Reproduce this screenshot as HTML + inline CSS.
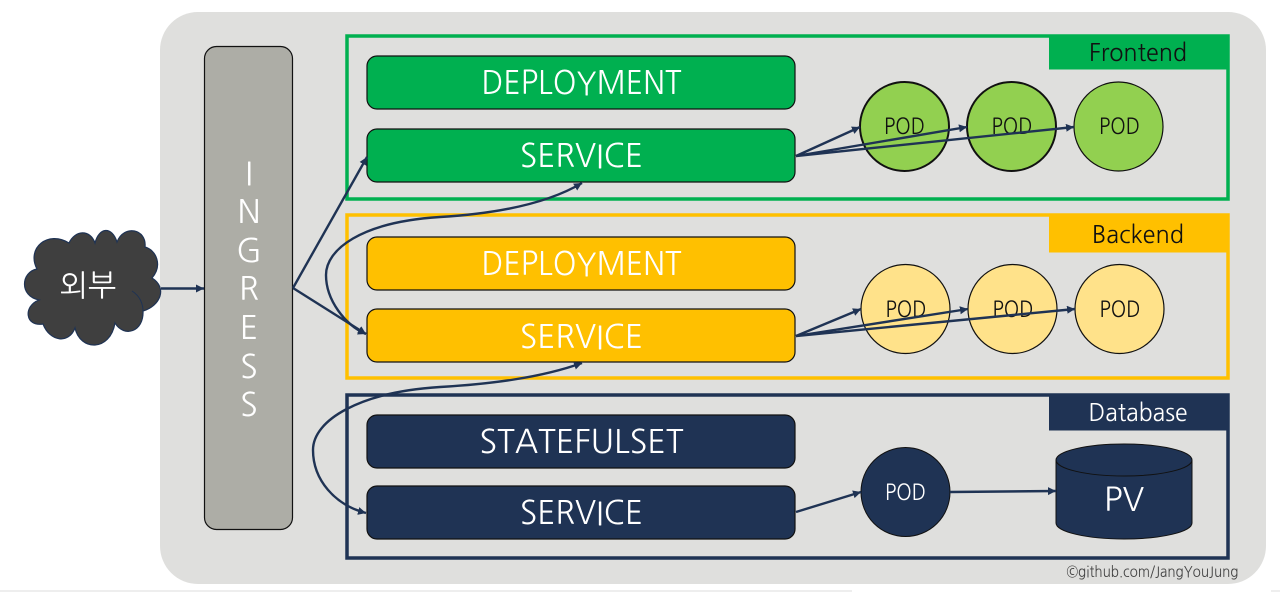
<!DOCTYPE html>
<html><head><meta charset="utf-8"><style>
html,body{margin:0;padding:0;background:#fff;width:1280px;height:592px;overflow:hidden}
svg{display:block}
text{font-family:"NanumGothic","Liberation Sans","Noto Sans CJK KR",sans-serif;text-anchor:middle}
.w{fill:#fff}.k{fill:#111}
.bar{font-size:32px}.tag{font-size:24px}.pod{font-size:22px}
.ln{fill:none;stroke:#1f3354;stroke-width:2.4}
</style></head><body>
<svg width="1280" height="592" viewBox="0 0 1280 592" xmlns="http://www.w3.org/2000/svg">
<defs><marker id="a" markerUnits="userSpaceOnUse" markerWidth="10" markerHeight="10" refX="8" refY="4" orient="auto-start-reverse"><path d="M0 0L8 4L0 8Z" fill="#1f3354"/></marker></defs>
<rect x="0" y="590" width="852" height="2" fill="#eee"/><rect x="1271" y="590" width="9" height="2" fill="#eee"/>
<rect x="160" y="12" width="1106" height="572" rx="38" fill="#dfdfdd"/>
<rect x="204.500" y="46.500" width="88" height="483" rx="12" fill="#adada6" stroke="#111" stroke-width="1.200"/>
<text class="w" style="font-size:32px" x="249" y="184">I</text><text class="w" style="font-size:32px" x="249" y="223">N</text><text class="w" style="font-size:32px" x="249" y="262">G</text><text class="w" style="font-size:32px" x="249" y="300">R</text><text class="w" style="font-size:32px" x="249" y="339">E</text><text class="w" style="font-size:32px" x="249" y="378">S</text><text class="w" style="font-size:32px" x="249" y="416">S</text>
<path d="M37 269C21 272 19 296 39 300C23 306 25 327 43 324C50 342 69 344 75 328C80 351 110 352 115 323C124 338 144 332 143 311C160 306 168 288 152 278C163 265 156 250 145 247C147 229 124 224 117 242C112 226 99 227 95 243C90 229 75 230 69 243C48 230 26 248 37 269Z" fill="#3f3f3f" stroke="#1f3354" stroke-width="1.200"/>
<path d="M132 291C140 296 143 304 143 311" fill="none" stroke="#1f3354" stroke-width="1"/>
<text class="w" x="88" y="296" style="font-size:30px">외부</text>
<rect x="347" y="36" width="881" height="163" fill="none" stroke="#00b050" stroke-width="3.500"/>
<rect x="1049" y="35" width="179" height="34.500" fill="#00b050"/>
<text class="tag k" x="1138" y="61" textLength="98" lengthAdjust="spacingAndGlyphs">Frontend</text>
<rect x="347" y="215" width="881" height="163" fill="none" stroke="#ffc000" stroke-width="3.500"/>
<rect x="1049" y="215" width="179" height="37.500" fill="#ffc000"/>
<text class="tag k" x="1138" y="243" textLength="92" lengthAdjust="spacingAndGlyphs">Backend</text>
<rect x="347" y="395" width="881" height="163" fill="none" stroke="#1f3354" stroke-width="3.500"/>
<rect x="1049" y="394" width="178" height="36.500" fill="#1f3354"/>
<text class="tag w" x="1138" y="421" textLength="99" lengthAdjust="spacingAndGlyphs">Database</text>
<g stroke="#111" stroke-width="1.200">
<rect x="367" y="56" width="428" height="53" rx="10" fill="#00b050"/>
<rect x="367" y="129" width="428" height="53" rx="10" fill="#00b050"/>
<rect x="367" y="237" width="428" height="53" rx="10" fill="#ffc000"/>
<rect x="367" y="309" width="428" height="53" rx="10" fill="#ffc000"/>
<rect x="367" y="415" width="428" height="53" rx="10" fill="#1f3354"/>
<rect x="367" y="486" width="428" height="53" rx="10" fill="#1f3354"/>
</g>
<text class="bar w" x="581.500" y="94" textLength="200" lengthAdjust="spacingAndGlyphs">DEPLOYMENT</text>
<text class="bar w" x="581.500" y="167" textLength="123" lengthAdjust="spacingAndGlyphs">SERVICE</text>
<text class="bar w" x="581.500" y="275" textLength="200" lengthAdjust="spacingAndGlyphs">DEPLOYMENT</text>
<text class="bar w" x="581.500" y="348" textLength="123" lengthAdjust="spacingAndGlyphs">SERVICE</text>
<text class="bar w" x="581.500" y="453" textLength="204" lengthAdjust="spacingAndGlyphs">STATEFULSET</text>
<text class="bar w" x="581.500" y="524" textLength="123" lengthAdjust="spacingAndGlyphs">SERVICE</text>
<g fill="#92d050" stroke="#111">
<circle cx="904.500" cy="126.500" r="44.500" stroke-width="2"/><circle cx="1011.500" cy="126.500" r="44.500" stroke-width="2"/><circle cx="1118.500" cy="126.500" r="44.500" stroke-width="1.200"/>
</g>
<g fill="#ffe28a" stroke="#111" stroke-width="1.200">
<circle cx="905.500" cy="309" r="44.500"/><circle cx="1012.500" cy="309" r="44.500"/><circle cx="1119.500" cy="309" r="44.500"/>
</g>
<circle cx="905.500" cy="492" r="44.500" fill="#1f3354" stroke="#111" stroke-width="1"/>
<text class="pod k" x="904.500" y="134" textLength="41" lengthAdjust="spacingAndGlyphs">POD</text>
<text class="pod k" x="1012" y="134" textLength="41" lengthAdjust="spacingAndGlyphs">POD</text>
<text class="pod k" x="1119.500" y="134" textLength="41" lengthAdjust="spacingAndGlyphs">POD</text>
<text class="pod k" x="906" y="317" textLength="41" lengthAdjust="spacingAndGlyphs">POD</text>
<text class="pod k" x="1013" y="317" textLength="41" lengthAdjust="spacingAndGlyphs">POD</text>
<text class="pod k" x="1120" y="317" textLength="41" lengthAdjust="spacingAndGlyphs">POD</text>
<text class="pod w" x="905.500" y="500" textLength="41" lengthAdjust="spacingAndGlyphs">POD</text>
<path d="M1056 460V523A68 16 0 0 0 1192 523V460A68 16 0 0 0 1056 460Z" fill="#1f3354" stroke="#111" stroke-width="1"/>
<path d="M1056 460A68 16 0 0 0 1192 460" fill="none" stroke="#111" stroke-width="1"/>
<text class="w" x="1124" y="511" style="font-size:32px" textLength="40" lengthAdjust="spacingAndGlyphs">PV</text>
<path class="ln" d="M161 288.500H204" marker-end="url(#a)"/>
<path class="ln" d="M293 288L367 157" marker-end="url(#a)"/>
<path class="ln" d="M293 288L366 334" marker-end="url(#a)"/>
<path class="ln" d="M582 183C545 205 490 214 440 217C360 222 326 250 326 275C326 300 345 325 366 334" marker-start="url(#a)" marker-end="url(#a)"/>
<path class="ln" d="M582 363C540 378 490 384 440 387C360 392 313 420 313 450C313 480 335 505 366 513" marker-start="url(#a)" marker-end="url(#a)"/>
<path class="ln" d="M796 156L860 127" marker-end="url(#a)"/>
<path class="ln" d="M796 156L967 127" marker-end="url(#a)"/>
<path class="ln" d="M796 156L1074 127" marker-end="url(#a)"/>
<path class="ln" d="M796 336L861 309" marker-end="url(#a)"/>
<path class="ln" d="M796 336L968 309" marker-end="url(#a)"/>
<path class="ln" d="M796 336L1075 309" marker-end="url(#a)"/>
<path class="ln" d="M796 512L861 492" marker-end="url(#a)"/>
<path class="ln" d="M950 492L1056 491" marker-end="url(#a)"/>
<text x="1152.500" y="577" style="font-size:15px;fill:#444" textLength="172" lengthAdjust="spacingAndGlyphs">©github.com/JangYouJung</text>
</svg>
</body></html>
